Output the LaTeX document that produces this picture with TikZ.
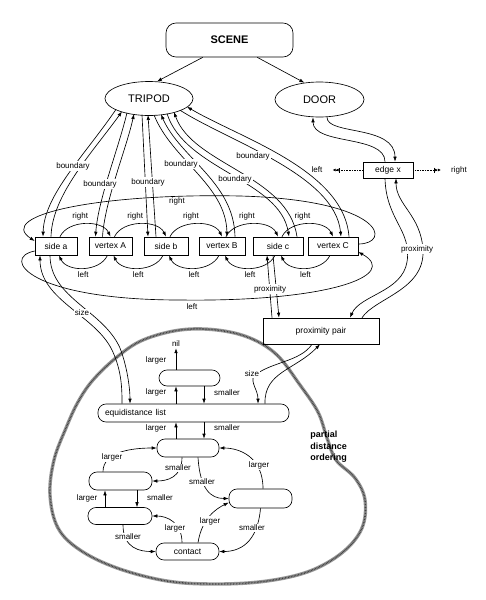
\documentclass[tikz,border=0pt]{standalone}
\usepackage{fontspec}
\setmainfont{Liberation Sans}
\usetikzlibrary{arrows.meta,calc,shapes.geometric}
\begin{document}
\begin{tikzpicture}[x=1pt,y=-1pt, line width=0.65pt,
  arr/.style={-{Latex[length=5pt,width=3.6pt]}},
  lbl/.style={font=\fontsize{8}{9}\selectfont, inner sep=1pt},
  wl/.style={lbl, fill=white},
  box/.style={draw, minimum height=18pt, inner sep=0pt, font=\fontsize{8.5}{10}\selectfont},
  pill/.style={draw, rounded corners=8pt, minimum width=63pt, minimum height=17pt, inner sep=0pt, font=\fontsize{8.5}{10}\selectfont},
  ell/.style={draw, ellipse, minimum width=88pt, minimum height=34pt, inner sep=0pt, font=\fontsize{11}{13}\selectfont},
  blob/.style={line width=3.4pt, black!40, line join=round},
  blobtex/.style={line width=1.6pt, black!75, dash pattern=on 0.7pt off 0.8pt, line join=round},
  dotarr/.style={densely dotted, -{Bar[width=5pt]Latex[length=3pt,width=3pt]Latex[length=3pt,width=3pt]}}
]
\useasboundingbox (0,0) rectangle (486,600);

% partial distance ordering region
\def\blobpts{(93,380) (117,357) (143,340) (180,330) (217,330) (250,338) (277,355) (300,385) (318,412) (327,438) (336,460) (355,478) (365,500) (362,528) (343,552) (310,571) (267,581) (217,584) (167,581) (117,568) (80,550) (58,528) (50,495) (54,460) (66,428) (78,402)}
\draw[blob] plot[smooth cycle, tension=0.6] coordinates {\blobpts};
\draw[blobtex] plot[smooth cycle, tension=0.6] coordinates {\blobpts};
\node[font=\bfseries\fontsize{9}{11.5}\selectfont, align=left, anchor=north west, inner sep=0pt] (pdo) at (310,431) {partial\\distance\\ordering};

% top nodes
\node[draw, rounded corners=10pt, minimum width=127pt, minimum height=34pt, inner sep=0pt, font=\bfseries\fontsize{11}{13}\selectfont] (scene) at (229.5,40) {SCENE};
\node[ell] (tripod) at (149,98.5) {TRIPOD};
\node[ell, minimum width=89pt, minimum height=35pt] (door) at (319.5,99.5) {DOOR};
\draw[arr] (scene.-147) -- (tripod.65);
\draw[arr] (scene.-32.7) -- (door.132.5);

% row of boxes
\node[box, minimum width=42pt] (sa) at (56,246) {side a};
\node[box, minimum width=43pt] (vA) at (110.5,246) {vertex A};
\node[box, minimum width=44pt] (sb) at (166,246) {side b};
\node[box, minimum width=46pt] (vB) at (222,246) {vertex B};
\node[box, minimum width=50pt] (sc) at (278,246) {side c};
\node[box, minimum width=50pt] (vC) at (333,246) {vertex C};

% boundary pairs
\draw[arr] ([shift={(-33,10.9)}]tripod.center) .. controls (85,155) and (44,195) .. ([xshift=-13pt]sa.north);
\draw[arr] ([xshift=-5pt]sa.north) .. controls (52,195) and (92,153) .. ([shift={(-27,13)}]tripod.center);
\draw[arr] ([shift={(-22,14.3)}]tripod.center) .. controls (118,150) and (98,200) .. ([xshift=-15pt]vA.north);
\draw[arr] ([xshift=-8pt]vA.north) .. controls (105,200) and (126,150) .. ([shift={(-15,15.5)}]tripod.center);
\draw[arr] ([shift={(-7,16.3)}]tripod.center) -- ([xshift=-18pt]sb.north);
\draw[arr] ([xshift=-10pt]sb.north) -- ([shift={(-1,16.5)}]tripod.center);
\draw[arr] ([shift={(5,16.4)}]tripod.center) .. controls (172,160) and (226,185) .. ([xshift=5pt]vB.north);
\draw[arr] ([xshift=13pt]vB.north) .. controls (234,182) and (180,158) .. ([shift={(12,15.9)}]tripod.center);
\draw[arr] ([shift={(18,15.1)}]tripod.center) .. controls (185,170) and (280,180) .. ([xshift=11pt]sc.north);
\draw[arr] ([xshift=19pt]sc.north) .. controls (288,175) and (193,165) .. ([shift={(25,13.6)}]tripod.center);
\draw[arr] ([shift={(31,11.7)}]tripod.center) .. controls (230,142) and (335,175) .. ([xshift=8pt]vC.north);
\draw[arr] ([xshift=16pt]vC.north) .. controls (344,170) and (240,138) .. ([shift={(38,8.3)}]tripod.center);
\node[wl] at (73,166) {boundary};
\node[wl] at (100,184) {boundary};
\node[wl] at (148,182) {boundary};
\node[wl] at (181,164) {boundary};
\node[wl] at (235,179) {boundary};
\node[wl] at (253,156) {boundary};

% neighbour arcs
\foreach \a/\b in {sa/vA,vA/sb,sb/vB,vB/sc,sc/vC}{
  \draw[arr] ([xshift=4pt]\a.north) .. controls +(8,-17) and +(-8,-17) .. (\b.north);
  \node[lbl] at ($(\a.north)!0.5!(\b.north)+(-3,-20)$) {right};
  \draw[arr] ([xshift=-3pt]\b.south) .. controls +(-8,17) and +(8,17) .. ([xshift=3pt]\a.south);
  \node[lbl] at ($(\a.south)!0.5!(\b.south)+(0,19)$) {left};
}

% big wrap-around arcs
\draw[arr] ([yshift=2pt]vC.east) .. controls (392,244) and (385,200) .. (240,196) .. controls (100,193) and (-5,215) .. ([yshift=5pt]sa.west);
\draw[arr] ([yshift=-5pt]sa.west) .. controls (0,258) and (30,300) .. (180,300) .. controls (330,302) and (400,275) .. ([yshift=-6pt]vC.east);
\node[lbl] at (177,201) {right};
\node[lbl] at (192,307) {left};

% edge x
\node[box, minimum width=50pt, minimum height=16pt] (ex) at (388,170) {edge x};
\node[lbl] (lft) at (317,170) {left};
\node[lbl] (rgt) at (459,170) {right};
\draw[dotarr] (ex.west) -- ([xshift=9pt]lft.east);
\draw[dotarr] (ex.east) -- ([xshift=-9pt]rgt.west);
\draw[arr] ([xshift=-3pt]ex.north) .. controls +(0,-27) and +(0,28) .. ([xshift=-6.5pt]door.south);
\draw[arr] ([xshift=7.5pt]door.south) .. controls +(0,18) and +(0,-37) .. ([xshift=7pt]ex.north);

% proximity pair
\node[box, minimum width=116pt, minimum height=26pt] (pp) at (321,331) {proximity pair};
\draw[arr] ([xshift=-3pt]ex.south) .. controls (386,220) and (412,230) .. (407,262) .. controls (402,292) and (360,295) .. ([xshift=29pt]pp.north);
\draw[arr] ([xshift=41pt]pp.north) .. controls (375,298) and (425,290) .. (423,250) .. controls (421,215) and (396,205) .. ([xshift=8pt]ex.south);
\node[wl] at (417,249) {proximity};
\draw[arr] ([xshift=-49pt]pp.north) -- ([xshift=-11pt]sc.south);
\draw[arr] ([xshift=-5pt]sc.south) -- ([xshift=-42pt]pp.north);
\node[wl] at (270,289) {proximity};

% equidistance list chain
\node[pill, minimum width=61pt, minimum height=16pt] (n1) at (189.5,378) {};
\node[pill, minimum width=191pt, minimum height=18pt, text width=177pt, align=left] (equi) at (193.5,413) {equidistance list};
\node[lbl] (nil) at (176,344) {nil};
\node[pill, minimum width=62pt, minimum height=18pt] (n2) at (188,448) {};
\node[pill, minimum height=18pt] (n3) at (120.5,481) {};
\node[pill, minimum width=64pt] (n4) at (120,516) {};
\node[pill, minimum height=19pt] (n5) at (260.5,498.5) {};
\node[pill] (ct) at (187.5,551.5) {contact};

% size links
\draw[arr] ([xshift=-71.5pt]equi.north) .. controls (122,390) and (122,371) .. (112,350) .. controls (95,315) and (40,300) .. ([xshift=-16pt]sa.south);
\draw[arr] ([xshift=-6pt]sa.south) .. controls (50,298) and (103,310) .. (120,348) .. controls (127,366) and (130,388) .. ([xshift=-63.5pt]equi.north);
\node[wl] at (82,313) {size};
\draw[arr] ([xshift=-9pt]pp.south) .. controls (300,362) and (270,362) .. (254,376) .. controls (250,382) and (258,390) .. ([xshift=64.5pt]equi.north);
\node[wl] at (252,374) {size};
\draw[arr] ([xshift=71.5pt]equi.north) .. controls (264,372) and (295,370) .. ([xshift=-1pt]pp.south);

\draw[arr] ([xshift=-13.5pt]n1.north) -- (nil.south);
\draw[arr] ([xshift=-17.5pt]equi.north) -- ([xshift=-13.5pt]n1.south);
\draw[arr] ([xshift=14.5pt]n1.south) -- ([xshift=10.5pt]equi.north);
\draw[arr] ([xshift=-12pt]n2.north) -- ([xshift=-17.5pt]equi.south);
\draw[arr] ([xshift=10.5pt]equi.south) -- ([xshift=16pt]n2.north);
\node[lbl] at (156,360) {larger};
\node[lbl] at (156,392) {larger};
\node[lbl] at (227,393) {smaller};
\node[lbl] at (156,428) {larger};
\node[lbl] at (227,428) {smaller};

% partial ordering graph
\draw[arr] ([xshift=-15pt]n4.north) -- ([xshift=-15.5pt]n3.south);
\draw[arr] ([xshift=16.5pt]n3.south) -- ([xshift=17pt]n4.north);
\node[lbl] at (87,498) {larger};
\node[lbl] at (160,498) {smaller};
\draw[arr] ([xshift=-17.5pt]n3.north) .. controls +(0,-20) and +(-25,0) .. (n2.west);
\draw[arr] ([xshift=-6pt]n2.south) .. controls +(0,20) and +(15,0) .. (n3.east);
\draw[arr] ([xshift=10pt]n2.south) .. controls +(2,32) and +(-18,0) .. (n5.west);
\draw[arr] ([xshift=2.5pt]n5.north) .. controls +(0,-32) and +(20,0) .. (n2.east);
\draw[arr] ([xshift=3pt]n4.south) .. controls +(0,24) and +(-15,0) .. (ct.west);
\draw[arr] ([xshift=-5.5pt]ct.north) .. controls +(0,-20) and +(15,0) .. (n4.east);
\draw[arr] ([xshift=10.5pt]ct.north) .. controls +(4,-25) and +(-12,6) .. ([yshift=-4pt]n5.west);
\draw[arr] (n5.south) .. controls +(-3,35) and +(20,0) .. (ct.east);
\node[wl] at (112,457) {larger};
\node[wl] at (178,468) {smaller};
\node[wl] at (202,482) {smaller};
\node[wl] at (259,465) {larger};
\node[wl] at (128,537) {smaller};
\node[wl] at (175,528) {larger};
\node[wl] at (210,521) {larger};
\node[wl] at (252,528) {smaller};
\end{tikzpicture}
\end{document}
